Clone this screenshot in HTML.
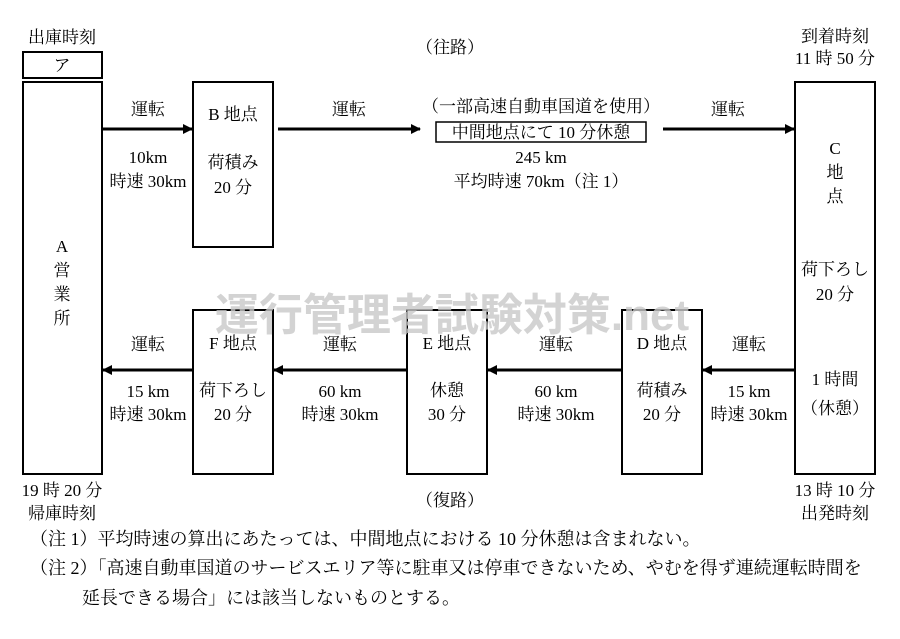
<!DOCTYPE html>
<html><head><meta charset="utf-8"><style>
body{margin:0;background:#fff}
svg text{font-family:"Liberation Serif","Noto Serif CJK SC",serif;font-size:17px;fill:#000}
</style></head><body>
<svg width="900" height="634" xmlns="http://www.w3.org/2000/svg">
<defs><marker id="ar" markerWidth="10" markerHeight="10" refX="9" refY="5" orient="auto" markerUnits="userSpaceOnUse"><path d="M0,0 L10,5 L0,10 z" fill="#000"/></marker></defs>
<g fill="none" stroke="#000" stroke-width="2">
<rect x="23" y="52" width="79" height="26"/>
<rect x="23" y="82" width="79" height="392"/>
<rect x="193" y="82" width="80" height="165"/>
<rect x="795" y="82" width="80" height="392"/>
<rect x="193" y="310" width="80" height="164"/>
<rect x="407" y="310" width="80" height="164"/>
<rect x="622" y="310" width="80" height="164"/>
<rect x="436" y="122" width="210" height="20" stroke-width="1.5"/>
</g>
<g stroke="#000" stroke-width="3" marker-end="url(#ar)">
<line x1="102" y1="129" x2="192" y2="129"/>
<line x1="278" y1="129" x2="420" y2="129"/>
<line x1="663" y1="129" x2="794" y2="129"/>
<line x1="795" y1="370" x2="703" y2="370"/>
<line x1="622" y1="370" x2="488" y2="370"/>
<line x1="407" y1="370" x2="274" y2="370"/>
<line x1="193" y1="370" x2="103" y2="370"/>
</g>
<text x="452" y="330" text-anchor="middle" style="font-family:'Liberation Sans','Noto Sans CJK JP',sans-serif;font-size:44px;font-weight:bold;fill:#c8c8c8;fill-opacity:0.8">運行管理者試験対策.net</text>
<g text-anchor="middle">
<text x="62" y="43">出庫時刻</text>
<text x="62" y="71">ア</text>
<text x="450" y="53">（往路）</text>
<text x="835" y="42">到着時刻</text>
<text x="835" y="64">11 時 50 分</text>
<text x="148" y="115">運転</text>
<text x="148" y="163">10km</text>
<text x="148" y="187">時速 30km</text>
<text x="233" y="120">B 地点</text>
<text x="233" y="168">荷積み</text>
<text x="233" y="193">20 分</text>
<text x="349" y="115">運転</text>
<text x="541" y="112">（一部高速自動車国道を使用）</text>
<text x="541" y="138">中間地点にて 10 分休憩</text>
<text x="541" y="163">245 km</text>
<text x="541" y="187">平均時速 70km（注 1）</text>
<text x="728" y="115">運転</text>
<text x="835" y="154">C</text>
<text x="835" y="178">地</text>
<text x="835" y="202">点</text>
<text x="835" y="275">荷下ろし</text>
<text x="835" y="300">20 分</text>
<text x="835" y="385">1 時間</text>
<text x="835" y="414">（休憩）</text>
<text x="62" y="252">A</text>
<text x="62" y="276">営</text>
<text x="62" y="300">業</text>
<text x="62" y="324">所</text>
<text x="148" y="350">運転</text>
<text x="148" y="397">15 km</text>
<text x="148" y="420">時速 30km</text>
<text x="233" y="349">F 地点</text>
<text x="233" y="396">荷下ろし</text>
<text x="233" y="420">20 分</text>
<text x="340" y="350">運転</text>
<text x="340" y="397">60 km</text>
<text x="340" y="420">時速 30km</text>
<text x="447" y="349">E 地点</text>
<text x="447" y="396">休憩</text>
<text x="447" y="420">30 分</text>
<text x="556" y="350">運転</text>
<text x="556" y="397">60 km</text>
<text x="556" y="420">時速 30km</text>
<text x="662" y="349">D 地点</text>
<text x="662" y="396">荷積み</text>
<text x="662" y="420">20 分</text>
<text x="749" y="350">運転</text>
<text x="749" y="397">15 km</text>
<text x="749" y="420">時速 30km</text>
<text x="62" y="496">19 時 20 分</text>
<text x="62" y="519">帰庫時刻</text>
<text x="450" y="506">（復路）</text>
<text x="835" y="496">13 時 10 分</text>
<text x="835" y="519">出発時刻</text>
</g>
<g style="font-size:18px">
<text x="30" y="545" style="font-size:18px">（注 1）平均時速の算出にあたっては、中間地点における 10 分休憩は含まれない。</text>
<text x="30" y="574" style="font-size:18px">（注 2）「高速自動車国道のサービスエリア等に駐車又は停車できないため、やむを得ず連続運転時間を</text>
<text x="82" y="604" style="font-size:18px">延長できる場合」には該当しないものとする。</text>
</g>
</svg>
</body></html>
